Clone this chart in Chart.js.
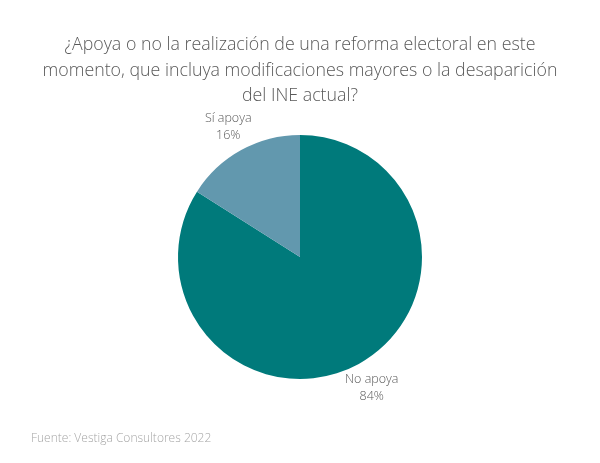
<!DOCTYPE html>
<html>
<head>
<meta charset="utf-8">
<script src="https://cdn.jsdelivr.net/npm/chart.js@4"></script>
<style>
  html, body { margin: 0; padding: 0; background: #ffffff; }
  #wrap { width: 600px; height: 463px; position: relative; }
</style>
</head>
<body>
<div id="wrap"><canvas id="pieChart" width="600" height="463"></canvas></div>
<script>
// Datos del gráfico
const categorias = ['No apoya', 'Sí apoya'];
const valores = [84, 16];
const colores = ['#007a7b', '#6298ae'];
const titulo = [
  '¿Apoya o no la realización de una reforma electoral en este',
  'momento, que incluya modificaciones mayores o la desaparición',
  'del INE actual?'
];
const fuente = 'Fuente: Vestiga Consultores 2022';

// Título, fuente y etiquetas de cada rebanada
const textosPlugin = {
  id: 'textos',
  afterDraw(chart) {
    const ctx = chart.ctx;
    ctx.save();
    ctx.fillStyle = '#595959';
    ctx.font = '300 17.8px "Open Sans"';
    ctx.textAlign = 'center';
    ctx.textBaseline = 'alphabetic';
    const bases = [50, 76, 101];
    titulo.forEach((linea, i) => ctx.fillText(linea, 300, bases[i]));

    ctx.font = '300 12.5px "Open Sans"';
    ctx.textBaseline = 'middle';
    chart.getDatasetMeta(0).data.forEach((arc, i) => {
      const mid = (arc.startAngle + arc.endAngle) / 2;
      const dist = arc.outerRadius + 27;
      const x = arc.x + Math.cos(mid) * dist;
      const y = arc.y + Math.sin(mid) * dist;
      ctx.fillText(categorias[i], x, y - 8);
      ctx.fillText(valores[i] + '%', x, y + 9);
    });

    ctx.fillStyle = '#a6a6a6';
    ctx.font = '300 12px "Open Sans"';
    ctx.textAlign = 'left';
    ctx.textBaseline = 'alphabetic';
    ctx.fillText(fuente, 31, 442);
    ctx.restore();
  }
};

new Chart(document.getElementById('pieChart').getContext('2d'), {
  type: 'pie',
  data: {
    labels: categorias,
    datasets: [{
      data: valores,
      backgroundColor: colores,
      borderWidth: 0
    }]
  },
  options: {
    responsive: false,
    animation: false,
    layout: { padding: { top: 135, bottom: 84, left: 0, right: 0 } },
    plugins: {
      legend: { display: false },
      tooltip: { enabled: false }
    }
  },
  plugins: [textosPlugin]
});
</script>
</body>
</html>
